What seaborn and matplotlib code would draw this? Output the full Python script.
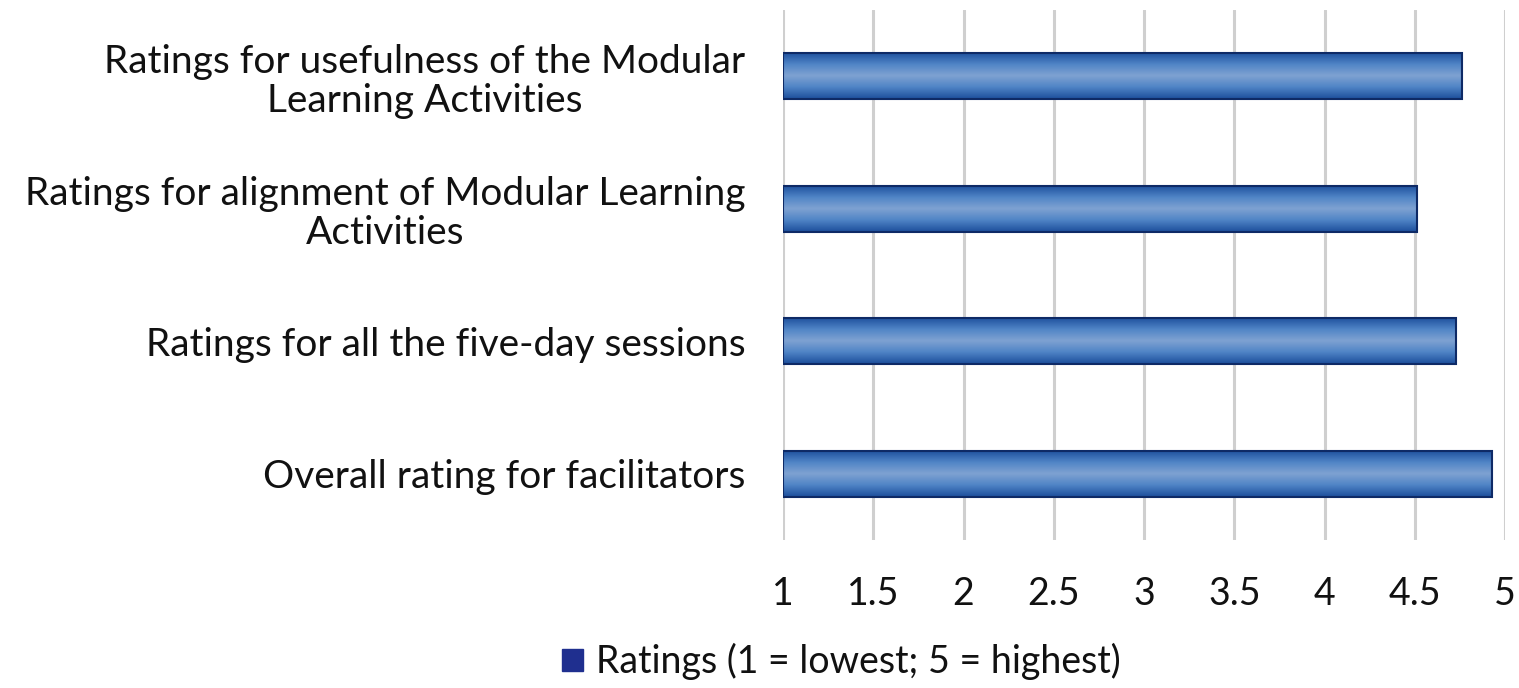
import numpy as np
import pandas as pd
import matplotlib
matplotlib.use("Agg")
import matplotlib.pyplot as plt
import seaborn as sns
from matplotlib.colors import LinearSegmentedColormap
from matplotlib.patches import Patch

# data
categories = [
    "Ratings for usefulness of the Modular\nLearning Activities",
    "Ratings for alignment of Modular Learning\nActivities",
    "Ratings for all the five-day sessions",
    "Overall rating for facilitators",
]
ratings = [4.76, 4.51, 4.73, 4.93]
x_ticks = [1, 1.5, 2, 2.5, 3, 3.5, 4, 4.5, 5]
x_tick_labels = ["1", "1.5", "2", "2.5", "3", "3.5", "4", "4.5", "5"]
legend_label = "Ratings (1 = lowest; 5 = highest)"

df = pd.DataFrame({"category": categories, "rating": ratings})

sns.set_style("white")
plt.rcParams["font.family"] = ["Lato", "DejaVu Sans"]

fig = plt.figure(figsize=(15.19, 6.88), dpi=100)
ax = fig.add_axes([0.5155, 0.215, 0.4753, 0.7705])

sns.barplot(data=df, x="rating", y="category", orient="h", width=0.35,
            color="#5b8ccc", edgecolor="#0e2a66", linewidth=1.5, ax=ax)

# bars start at 1, not 0 -> shift them so they begin at the axis origin
for p in ax.patches:
    w = p.get_width()
    p.set_x(1)
    p.set_width(w - 1)

# vertical gradient inside each bar, like the original
grad_cmap = LinearSegmentedColormap.from_list(
    "bar", ["#1d4f9c", "#4f84c6", "#7fa2d2", "#4f84c6", "#1d4f9c"])
grad = np.linspace(0, 1, 64).reshape(-1, 1)
for p in list(ax.patches):
    x0, y0 = p.get_x(), p.get_y()
    x1, y1 = x0 + p.get_width(), y0 + p.get_height()
    im = ax.imshow(grad, cmap=grad_cmap, aspect="auto",
                   extent=[x0, x1, y1, y0], zorder=p.get_zorder(),
                   interpolation="bicubic")
    im.set_clip_path(p)
    p.set_facecolor("none")
    p.set_zorder(p.get_zorder() + 0.5)

ax.set_xlim(1, 5)
ax.set_ylim(3.5, -0.5)
ax.set_xticks(x_ticks)
ax.set_xticklabels(x_tick_labels)
ax.xaxis.grid(True, color="#cfcfcf", linewidth=2.2)
ax.set_axisbelow(True)
sns.despine(ax=ax, left=True, bottom=True, top=True, right=True)
ax.set_xlabel("")
ax.set_ylabel("")
ax.tick_params(axis="x", length=0, pad=26, labelsize=27, labelcolor="#111111")
ax.tick_params(axis="y", length=0, pad=27, labelsize=28, labelcolor="#111111")
for lbl in ax.get_yticklabels():
    lbl.set_multialignment("center")
    lbl.set_linespacing(1.1)

handles = [Patch(facecolor="#1f2f8f", edgecolor="#1f2f8f", label=legend_label)]
fig.legend(handles=handles, loc="center", bbox_to_anchor=(0.554, 0.038),
           frameon=False, fontsize=27, handlelength=0.55, handleheight=0.55,
           handletextpad=0.35, labelcolor="#111111",
           borderpad=0, borderaxespad=0)

fig.savefig("out.png", dpi=100)
